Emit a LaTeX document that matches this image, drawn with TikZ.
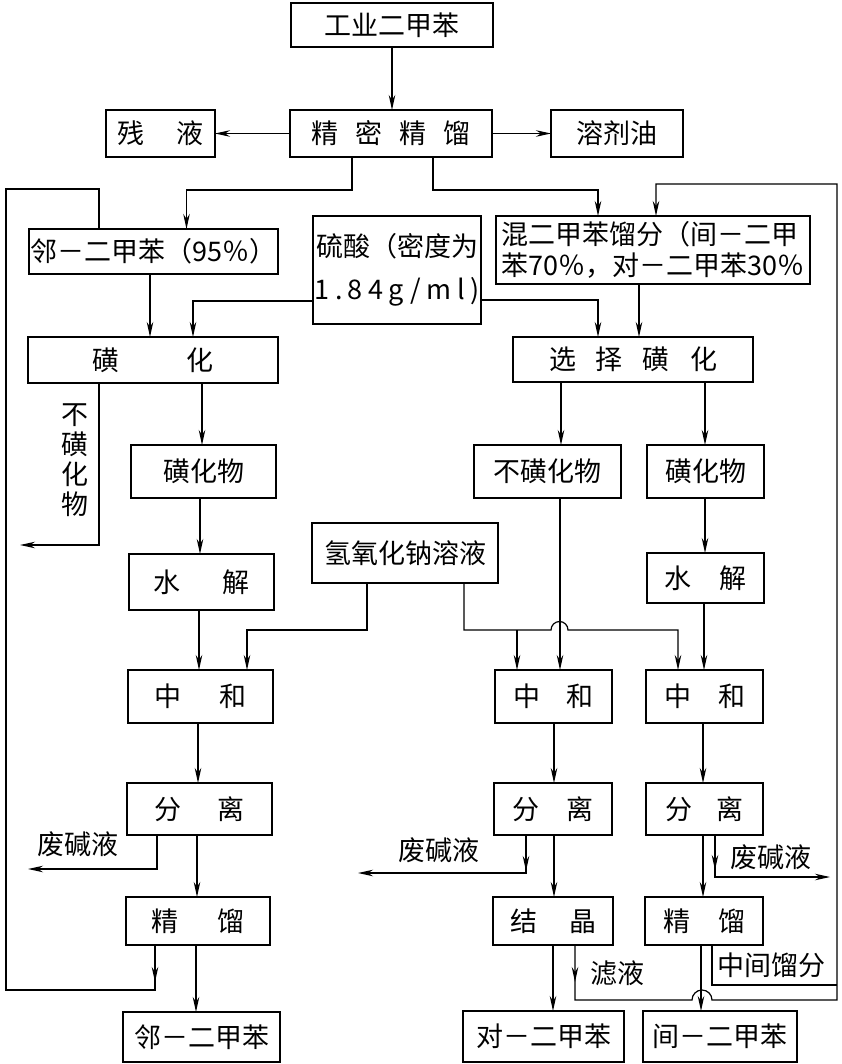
\documentclass[tikz,border=0pt]{standalone}
\usepackage{fontspec}
\usetikzlibrary{arrows.meta,calc,decorations.markings}
\newfontfamily\cjk{Noto Sans CJK SC}
\newcommand{\kgap}[1]{\hspace*{#1pt}}

\begin{document}
\begin{tikzpicture}[x=1pt, y=-1pt,
    box/.style={draw, line width=2.4pt, inner sep=0pt, outer sep=0pt, font=\cjk\fontsize{27}{32}\selectfont},
    lbl/.style={inner sep=0pt, align=center, font=\cjk\fontsize{27}{32}\selectfont},
    flow/.style={line width=1.2pt, -{Stealth[length=15pt,width=6.5pt]}},
    pipe/.style={line width=1.2pt},
    midarrow/.style={postaction={decorate}, decoration={markings, mark=at position #1 with {\arrow{Stealth[length=15pt,width=6.5pt]}}}}]
    \useasboundingbox (0,0) rectangle (841,1064);
    \node[box, minimum width=202pt, minimum height=44pt] (gongye) at (392,25) {工业二甲苯};
    \node[box, minimum width=202pt, minimum height=47pt] (jingmi) at (391,133.5) {精\kgap{17}密\kgap{17}精\kgap{17}馏};
    \node[box, minimum width=109pt, minimum height=47pt] (canye) at (160.5,133.5) {残\kgap{32}液};
    \node[box, minimum width=132pt, minimum height=47pt] (rongji) at (617,133.5) {溶剂油};
    \node[box, minimum width=249pt, minimum height=45pt] (linyuan) at (153.5,251.5) {邻－二甲苯（95％）};
    \node[box, minimum width=168pt, minimum height=108pt, align=center, font=\cjk\fontsize{27}{43}\selectfont] (liusuan) at (397,270) {硫酸（密度为\\{\addfontfeature{LetterSpace=20}1.84g/ml)}};
    \node[box, minimum width=314pt, minimum height=68pt, align=left, font=\cjk\fontsize{27}{31}\selectfont] (hun) at (653,250) {混二甲苯馏分（间－二甲\\苯70％，对－二甲苯30％};
    \node[box, minimum width=250pt, minimum height=46pt] (huangL) at (153,360) {磺\kgap{68}化};
    \node[box, minimum width=240pt, minimum height=45pt] (xuanze) at (633,359.5) {选\kgap{20}择\kgap{20}磺\kgap{20}化};
    \node[box, minimum width=145pt, minimum height=53pt] (huawuL) at (203.5,471.5) {磺化物};
    \node[box, minimum width=147pt, minimum height=53pt] (buhuang) at (547.5,471.5) {不磺化物};
    \node[box, minimum width=117pt, minimum height=53pt] (huawuR) at (705.5,471.5) {磺化物};
    \node[lbl, font=\cjk\fontsize{27}{30}\selectfont] (buhuangL) at (75,460) {不\\磺\\化\\物};
    \node[box, minimum width=145pt, minimum height=56pt] (shuijieL) at (201.5,582) {水\kgap{42}解};
    \node[box, minimum width=186pt, minimum height=60pt] (naoh) at (405,553) {氢氧化钠溶液};
    \node[box, minimum width=117pt, minimum height=50pt] (shuijieR) at (705.5,578) {水\kgap{28}解};
    \node[box, minimum width=145pt, minimum height=53pt] (zhongheL) at (200.5,696.5) {中\kgap{38}和};
    \node[box, minimum width=117pt, minimum height=53pt] (zhongheM) at (553.5,696.5) {中\kgap{26}和};
    \node[box, minimum width=117pt, minimum height=53pt] (zhongheR) at (704.5,696.5) {中\kgap{27}和};
    \node[box, minimum width=145pt, minimum height=52pt] (fenliL) at (199.5,809) {分\kgap{36}离};
    \node[box, minimum width=118pt, minimum height=52pt] (fenliM) at (553,809) {分\kgap{27}离};
    \node[box, minimum width=117pt, minimum height=52pt] (fenliR) at (704.5,809) {分\kgap{25}离};
    \node[box, minimum width=144pt, minimum height=48pt] (jingliuL) at (198,921) {精\kgap{39}馏};
    \node[box, minimum width=120pt, minimum height=48pt] (jiejing) at (553,921) {结\kgap{32}晶};
    \node[box, minimum width=118pt, minimum height=48pt] (jingliuR) at (704,921) {精\kgap{28}馏};
    \node[box, minimum width=157pt, minimum height=50pt] (linL) at (201.5,1037) {邻－二甲苯};
    \node[box, minimum width=161pt, minimum height=51pt] (dui) at (543.5,1036.5) {对－二甲苯};
    \node[box, minimum width=154pt, minimum height=51pt] (jian) at (720,1036.5) {间－二甲苯};
    \node[lbl] (feijianL) at (78,844) {废碱液};
    \node[lbl] (feijianM) at (439,850) {废碱液};
    \node[lbl] (feijianR) at (771,857) {废碱液};
    \node[lbl] (lvye) at (617,973) {滤液};
    \node[lbl] (zhongjian) at (771,965) {中间馏分};

    \draw[flow] (gongye.south) -- (gongye.south |- jingmi.north);
    \draw[flow] (jingmi.west) -- (canye.east);
    \draw[flow] (jingmi.east) -- (rongji.west);
    \draw[flow] ($(jingmi.south)+(-39,0)$) -- ++(0,33) -| ($(linyuan.north)+(33,0)$);
    \draw[flow] ($(jingmi.south)+(42,0)$) -- ++(0,33) -| ($(hun.north)+(-55,0)$);
    \draw[flow] ($(linyuan.south)+(-3.5,0)$) -- ($(huangL.north)+(-3,0)$);
    \draw[flow] ($(liusuan.west)+(0,31)$) -| ($(huangL.north)+(40,0)$);
    \draw[flow] ($(liusuan.east)+(0,30)$) -| ($(xuanze.north)+(-35,0)$);
    \draw[flow] ($(hun.south)+(-14,0)$) -- ($(xuanze.north)+(6,0)$);
    \draw[flow] ($(huangL.south)+(49,0)$) -- ($(huawuL.north)+(-1.5,0)$);
    \draw[flow] ($(huangL.south)+(-54,0)$) -- ++(0,162) -- ++(-79,0);
    \draw[flow] ($(huawuL.south)+(-3.5,0)$) -- ($(shuijieL.north)+(-1.5,0)$);
    \draw[flow] ($(shuijieL.south)+(-2.5,0)$) -- ($(zhongheL.north)+(-1.5,0)$);
    \draw[flow] ($(naoh.south)+(-38,0)$) -- ++(0,47) -| ($(zhongheL.north)+(46.5,0)$);
    \draw[flow] ($(naoh.south)+(59,0)$) -- ++(0,47) -- ++(87,0) arc[start angle=180, end angle=360, radius=8.5] -| ($(zhongheR.north)+(-26.5,0)$);
    \draw[flow] ($(naoh.south)+(112,47)$) -- ($(zhongheM.north)+(-36.5,0)$);
    \draw[flow] ($(xuanze.south)+(-72,0)$) -- ($(buhuang.north)+(13.5,0)$);
    \draw[flow] ($(xuanze.south)+(72,0)$) -- ($(huawuR.north)+(-0.5,0)$);
    \draw[flow] ($(buhuang.south)+(12.5,0)$) -- ($(zhongheM.north)+(6.5,0)$);
    \draw[flow] ($(huawuR.south)+(-0.5,0)$) -- ($(shuijieR.north)+(-0.5,0)$);
    \draw[flow] ($(shuijieR.south)+(-1.5,0)$) -- ($(zhongheR.north)+(-0.5,0)$);
    \draw[flow] ($(zhongheL.south)+(-2.5,0)$) -- ($(fenliL.north)+(-1.5,0)$);
    \draw[flow] ($(fenliL.south)+(-2.5,0)$) -- ($(jingliuL.north)+(-1,0)$);
    \draw[flow] ($(fenliL.south)+(-42.5,0)$) -- ++(0,34) -- ++(-129,0);
    \draw[flow] ($(jingliuL.south)+(-2,0)$) -- ($(linL.north)+(-5.5,0)$);
    \draw[pipe, midarrow=37pt] ($(jingliuL.south)+(-43,0)$) -- ++(0,45) -- ++(-149,0) |- ($(linyuan.north)+(-54.5,-40)$) -- ($(linyuan.north)+(-54.5,0)$);
    \draw[flow] ($(zhongheM.south)+(0.5,0)$) -- ($(fenliM.north)+(1,0)$);
    \draw[flow, midarrow=36pt] ($(fenliM.south)+(-27,0)$) -- ++(0,38) -- ++(-168,0);
    \draw[flow] ($(fenliM.south)+(1,0)$) -- ($(jiejing.north)+(1,0)$);
    \draw[flow] ($(zhongheR.south)+(-1.5,0)$) -- ($(fenliR.north)+(-1.5,0)$);
    \draw[flow] ($(fenliR.south)+(-1.5,0)$) -- ($(jingliuR.north)+(-1,0)$);
    \draw[flow, midarrow=35pt] ($(fenliR.south)+(10.5,0)$) -- ++(0,42) -- ++(115,0);
    \draw[flow] (jiejing.south) -- ($(dui.north)+(9.5,0)$);
    \draw[flow, midarrow=37pt] ($(jiejing.south)+(22,0)$) -- ++(0,55) -- ++(117,0) arc[start angle=180, end angle=360, radius=10] -- ++(125,0) -- ++(0,-816) -| ($(hun.north)+(3,0)$);
    \draw[flow] ($(jingliuR.south)+(-3,0)$) -- ($(jian.north)+(-19,0)$);
    \draw[pipe] ($(jingliuR.south)+(8,0)$) -- ++(0,40) -- ++(125,0);
\end{tikzpicture}
\end{document}
